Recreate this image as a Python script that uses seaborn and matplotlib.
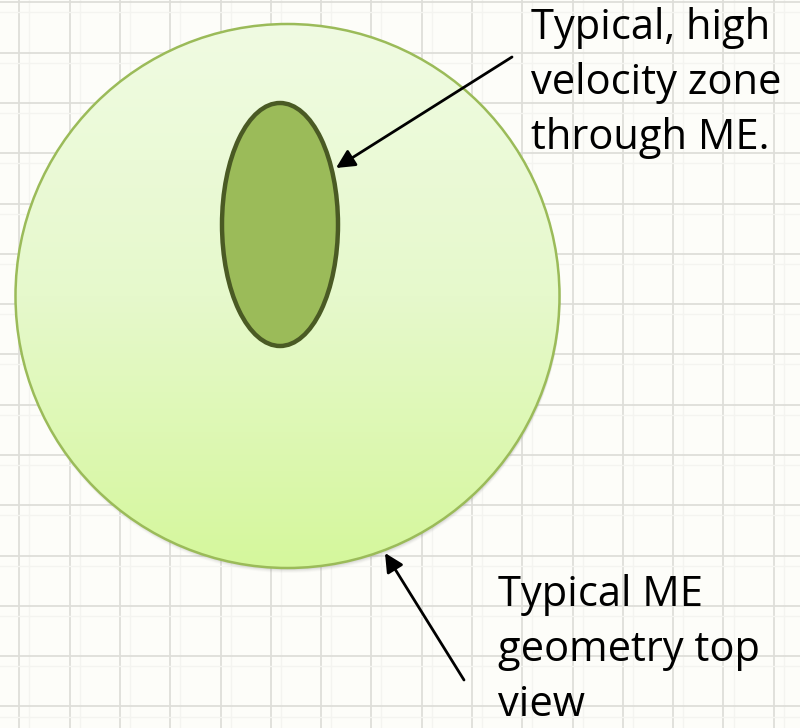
import numpy as np
import matplotlib
matplotlib.use("Agg")
import matplotlib.pyplot as plt
import seaborn as sns
from matplotlib.patches import Ellipse, Circle
from matplotlib.colors import LinearSegmentedColormap

# Diagram geometry (pixel units, y grows downwards)
OUTER_CENTER = [287.5, 296]
OUTER_RADIUS = 272
INNER_CENTER = [280, 224.5]
INNER_SIZE = [116, 243]          # width, height

# Annotation labels
LABELS = ["Typical, high\nvelocity zone\nthrough ME.",
          "Typical ME\ngeometry top\nview"]
LABEL_POS = [[531, 7], [498, 574]]
ARROW_TAILS = [[512, 57], [464, 680]]
ARROW_TIPS = [[336, 168], [385, 553]]

# background grid
GRID_X0, GRID_Y0, GRID_STEP = 19.3, 2.3, 50.3

sns.set_theme(style="white")
plt.rcParams['font.family'] = ['Open Sans', 'DejaVu Sans']

fig = plt.figure(figsize=(8, 7.28), dpi=100)
fig.patch.set_facecolor('#fdfdf9')
ax = fig.add_axes([0, 0, 1, 1])
ax.set_facecolor('#fdfdf9')
ax.set_xlim(0, 800)
ax.set_ylim(728, 0)
ax.axis('off')

# grid: major lines plus very faint minor lines
for x in np.arange(GRID_X0, 800, GRID_STEP):
    ax.axvline(x, color='#deded9', lw=1.3, zorder=0)
    ax.axvline(x + GRID_STEP * 0.2, color='#f4f4f0', lw=1.0, zorder=0)
for y in np.arange(GRID_Y0, 728, GRID_STEP):
    ax.axhline(y, color='#deded9', lw=1.3, zorder=0)
    ax.axhline(y + GRID_STEP * 0.2, color='#f4f4f0', lw=1.0, zorder=0)

# soft shadow under the outer circle
for i, a in enumerate([0.10, 0.08, 0.06, 0.04]):
    ax.add_patch(Circle((OUTER_CENTER[0] + 1, OUTER_CENTER[1] + 2 + i),
                        OUTER_RADIUS, facecolor='#808080', edgecolor='none',
                        alpha=a, zorder=1))

# outer circle with vertical gradient
outer = Circle(OUTER_CENTER, OUTER_RADIUS, facecolor='none',
               edgecolor='#9bbb59', lw=1.8, zorder=3)
ax.add_patch(outer)
cmap = LinearSegmentedColormap.from_list('g', ['#f0fbe2', '#e6f9cc', '#d5f79c'])
grad = np.linspace(0, 1, 256).reshape(-1, 1)
img = ax.imshow(grad, cmap=cmap, aspect='auto', zorder=2,
                extent=[OUTER_CENTER[0] - OUTER_RADIUS, OUTER_CENTER[0] + OUTER_RADIUS,
                        OUTER_CENTER[1] + OUTER_RADIUS, OUTER_CENTER[1] - OUTER_RADIUS])
clip = Circle(OUTER_CENTER, OUTER_RADIUS, transform=ax.transData)
img.set_clip_path(clip)
ax.set_xlim(0, 800)
ax.set_ylim(728, 0)

# inner high velocity zone
ax.add_patch(Ellipse(INNER_CENTER, INNER_SIZE[0], INNER_SIZE[1],
                     facecolor='#9bbb59', edgecolor='#4a5a24', lw=3.2, zorder=4))

# labels and arrows
for text, pos in zip(LABELS, LABEL_POS):
    ax.text(pos[0], pos[1], text, fontsize=30, color='black',
            ha='left', va='top', linespacing=1.41, zorder=6)

for tail, tip in zip(ARROW_TAILS, ARROW_TIPS):
    ax.annotate('', xy=tip, xytext=tail,
                arrowprops=dict(arrowstyle='-|>', color='black', lw=2,
                                mutation_scale=28, shrinkA=0, shrinkB=0),
                zorder=6)

fig.savefig('out.png', dpi=100, facecolor=fig.get_facecolor())
